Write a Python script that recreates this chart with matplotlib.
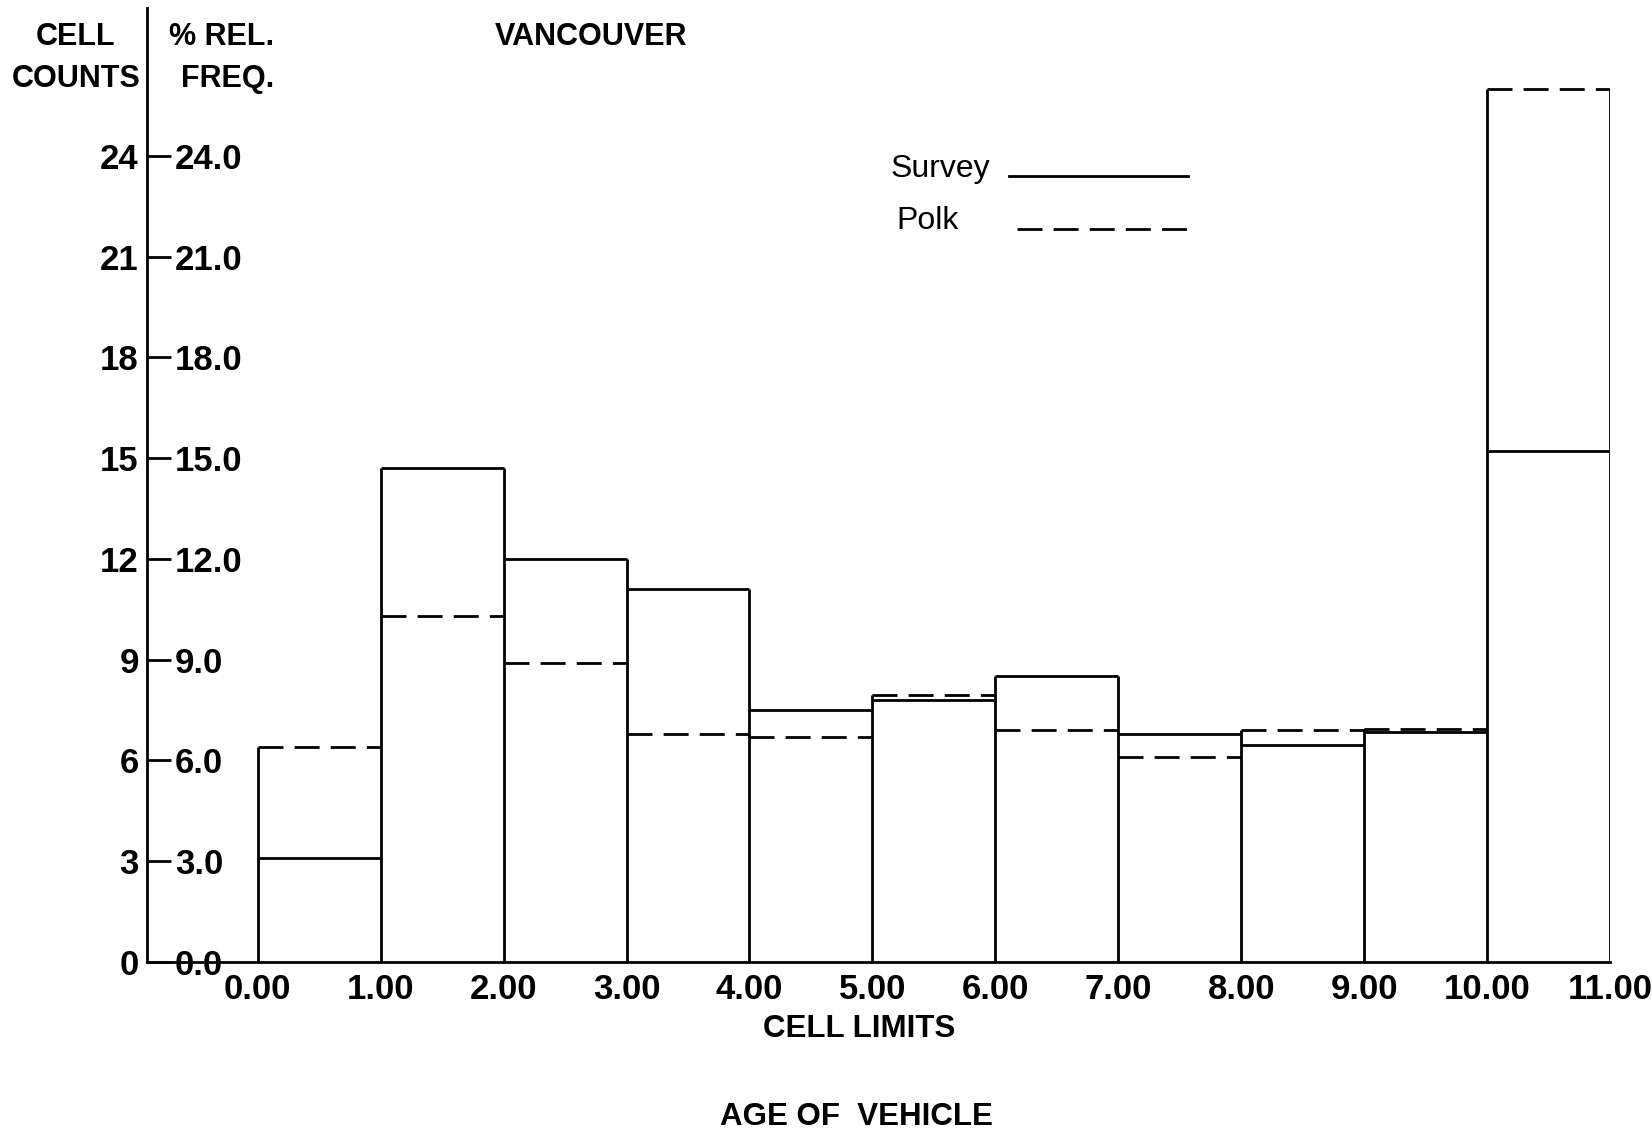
import matplotlib
matplotlib.use('Agg')
import matplotlib.pyplot as plt
from matplotlib.lines import Line2D
from matplotlib import transforms
import numpy as np

# Vancouver - age of vehicle, % relative frequency per one-year cell
cell_edges = [0, 1, 2, 3, 4, 5, 6, 7, 8, 9, 10, 11]
survey = [3.1, 14.7, 12.0, 11.1, 7.5, 7.8, 8.5, 6.8, 6.45, 6.85, 15.2]
polk = [6.4, 10.3, 8.9, 6.8, 6.7, 7.95, 6.9, 6.1, 6.9, 6.95, 26.0]
y_ticks = [0, 3, 6, 9, 12, 15, 18, 21, 24]
series_names = ['Survey', 'Polk']

FONT = ['Liberation Sans', 'DejaVu Sans']
DASH = (0, (9, 4))

fig = plt.figure(figsize=(16.52, 11.34), dpi=100)
ax = fig.add_axes([0.089, 0.1517, 0.8856, 0.8413])

edges = np.array(cell_edges, dtype=float)
survey = np.array(survey)
polk = np.array(polk)
lw = 2.0

# vertical cell walls reach the taller of the neighbouring tops
tops = np.maximum(survey, polk)
wall = np.zeros(len(edges))
wall[:-1] = tops
wall[1:] = np.maximum(wall[1:], tops)
ax.vlines(edges, 0, wall, colors='black', linewidth=lw)
ax.hlines(survey, edges[:-1], edges[1:], colors='black', linewidth=lw)
ax.hlines(polk, edges[:-1], edges[1:], colors='black', linewidth=lw,
          linestyles=DASH)

ax.set_xlim(-0.9, 11.0)
ax.set_ylim(0, 28.4)
ax.spines['top'].set_visible(False)
ax.spines['right'].set_visible(False)
ax.spines['left'].set_linewidth(lw)
ax.spines['bottom'].set_linewidth(lw)

ax.set_xticks(edges)
ax.set_xticklabels(['%.2f' % e for e in edges], fontsize=25,
                   fontweight='bold', family=FONT)
ax.tick_params(axis='x', length=0, pad=8)

ax.set_yticks(y_ticks)
ax.set_yticklabels([str(t) for t in y_ticks], fontsize=25,
                   fontweight='bold', family=FONT)
ax.tick_params(axis='y', direction='in', length=17, width=lw, pad=6)

# second label column (% rel. freq.) inside the axis
inner = transforms.offset_copy(ax.get_yaxis_transform(), fig=fig,
                               x=28, y=0, units='dots')
for t in y_ticks:
    ax.text(0, t, '%.1f' % t, transform=inner, ha='left',
            va='center_baseline', fontsize=25, fontweight='bold',
            family=FONT)

top = dict(fontsize=22, fontweight='bold', family=FONT)
fig.text(0.046, 0.967, 'CELL', ha='center', va='center', **top)
fig.text(0.046, 0.930, 'COUNTS', ha='center', va='center', **top)
fig.text(0.134, 0.967, '% REL.', ha='center', va='center', **top)
fig.text(0.138, 0.930, 'FREQ.', ha='center', va='center', **top)
fig.text(0.2995, 0.967, 'VANCOUVER', ha='left', va='center', **top)
bottom = dict(fontsize=22.5, fontweight='bold', family=FONT)
fig.text(0.520, 0.093, 'CELL LIMITS', ha='center', va='center', **bottom)
fig.text(0.5185, 0.015, 'AGE OF  VEHICLE', ha='center', va='center',
         **bottom)

# key: name first, line sample after it
fig.text(0.539, 0.8513, series_names[0], ha='left', va='center',
         fontsize=23, family=FONT)
fig.text(0.5427, 0.8048, series_names[1], ha='left', va='center',
         fontsize=23, family=FONT)
fig.add_artist(Line2D([0.611, 0.7194], [0.8448, 0.8448], color='black',
                      linewidth=lw, transform=fig.transFigure))
fig.add_artist(Line2D([0.6154, 0.7194], [0.7983, 0.7983], color='black',
                      linewidth=lw, linestyle=DASH,
                      transform=fig.transFigure))

fig.savefig('out.png', dpi=100, facecolor='white')
